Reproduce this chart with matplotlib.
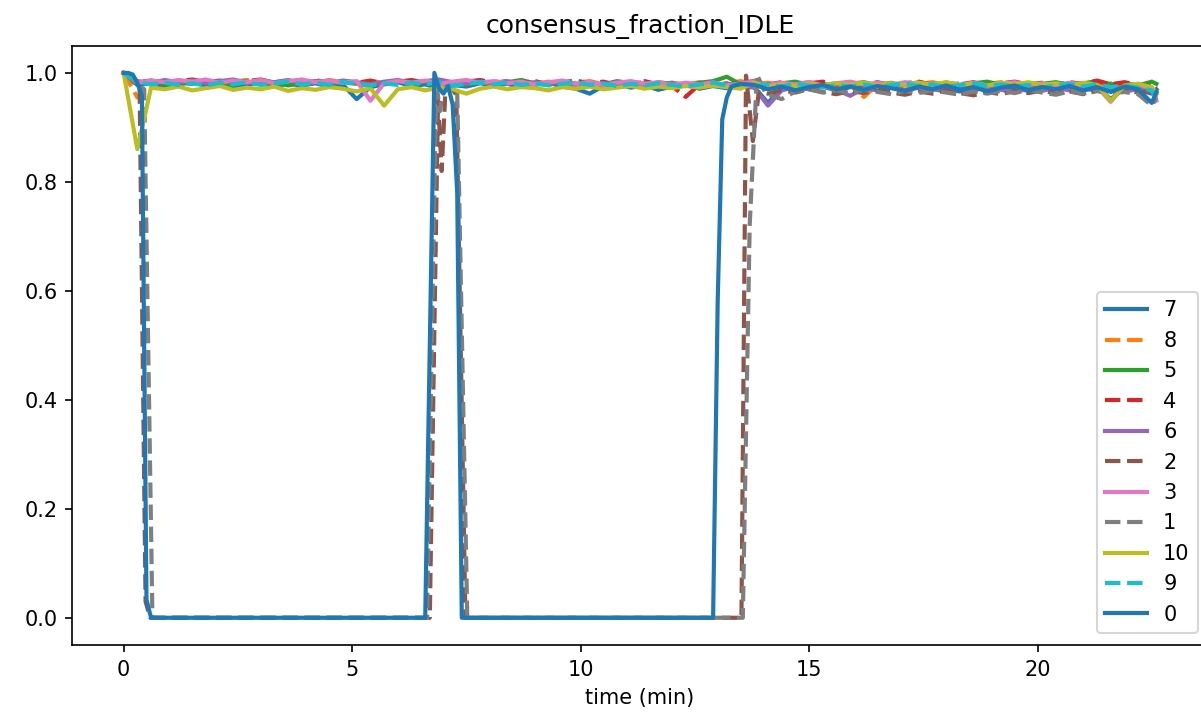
import numpy as np
import matplotlib
matplotlib.use("Agg")
import matplotlib.pyplot as plt

#%% data
# common sample times (min) for the runs that never drop out
t_grid = list(np.round(np.arange(0, 22.51, 0.3), 2)) + [22.6]

s7 = [1.0, 0.978, 0.981, 0.976, 0.979, 0.983, 0.977, 0.980, 0.975, 0.979,
      0.982, 0.976, 0.980, 0.977, 0.981, 0.975, 0.978, 0.952, 0.974, 0.979,
      0.983, 0.976, 0.979, 0.972, 0.978, 0.975, 0.981, 0.977, 0.980, 0.974,
      0.978, 0.982, 0.975, 0.971, 0.962, 0.976, 0.980, 0.973, 0.977, 0.969,
      0.975, 0.979, 0.971, 0.976, 0.972, 0.978, 0.974, 0.945, 0.972, 0.977,
      0.970, 0.975, 0.968, 0.974, 0.978, 0.970, 0.975, 0.968, 0.973, 0.977,
      0.971, 0.966, 0.974, 0.969, 0.976, 0.972, 0.967, 0.975, 0.970, 0.973,
      0.968, 0.974, 0.952, 0.972, 0.969, 0.962, 0.970]
s8 = [1.0, 0.955, 0.984, 0.981, 0.986, 0.982, 0.985, 0.980, 0.984, 0.987,
      0.983, 0.986, 0.981, 0.985, 0.982, 0.987, 0.983, 0.980, 0.985, 0.982,
      0.986, 0.981, 0.984, 0.979, 0.983, 0.986, 0.982, 0.985, 0.981, 0.984,
      0.980, 0.984, 0.978, 0.982, 0.985, 0.979, 0.983, 0.980, 0.984, 0.978,
      0.982, 0.979, 0.983, 0.977, 0.981, 0.985, 0.979, 0.982, 0.976, 0.980,
      0.983, 0.978, 0.981, 0.977, 0.956, 0.979, 0.982, 0.977, 0.980, 0.983,
      0.978, 0.981, 0.976, 0.980, 0.983, 0.977, 0.981, 0.978, 0.982, 0.976,
      0.980, 0.977, 0.981, 0.976, 0.979, 0.972, 0.950]
s5 = [1.0, 0.981, 0.985, 0.979, 0.983, 0.980, 0.986, 0.981, 0.978, 0.984,
      0.980, 0.983, 0.977, 0.982, 0.985, 0.979, 0.983, 0.981, 0.976, 0.982,
      0.985, 0.980, 0.983, 0.986, 0.981, 0.978, 0.984, 0.980, 0.983, 0.987,
      0.981, 0.978, 0.984, 0.980, 0.983, 0.979, 0.985, 0.981, 0.977, 0.983,
      0.980, 0.976, 0.982, 0.985, 0.993, 0.979, 0.982, 0.977, 0.981, 0.984,
      0.978, 0.982, 0.965, 0.980, 0.983, 0.977, 0.981, 0.978, 0.983, 0.979,
      0.982, 0.977, 0.981, 0.984, 0.978, 0.982, 0.976, 0.980, 0.983, 0.978,
      0.981, 0.985, 0.979, 0.982, 0.977, 0.984, 0.980]
s4 = [1.0, 0.983, 0.986, 0.982, 0.985, 0.988, 0.983, 0.986, 0.981, 0.985,
      0.988, 0.982, 0.986, 0.983, 0.987, 0.981, 0.985, 0.982, 0.986, 0.980,
      0.984, 0.987, 0.982, 0.985, 0.980, 0.984, 0.987, 0.982, 0.985, 0.981,
      0.985, 0.979, 0.983, 0.986, 0.981, 0.984, 0.978, 0.982, 0.985, 0.979,
      0.976, 0.956, 0.979, 0.983, 0.978, 0.982, 0.985, 0.979, 0.983, 0.977,
      0.981, 0.984, 0.978, 0.982, 0.979, 0.983, 0.977, 0.981, 0.984, 0.978,
      0.982, 0.979, 0.983, 0.977, 0.981, 0.984, 0.979, 0.982, 0.978, 0.983,
      0.980, 0.986, 0.979, 0.983, 0.978, 0.976, 0.968]
s6 = [1.0, 0.985, 0.982, 0.987, 0.983, 0.986, 0.981, 0.985, 0.988, 0.982,
      0.986, 0.983, 0.987, 0.981, 0.985, 0.982, 0.986, 0.983, 0.979, 0.984,
      0.987, 0.982, 0.985, 0.988, 0.983, 0.980, 0.984, 0.981, 0.985, 0.979,
      0.983, 0.980, 0.984, 0.978, 0.982, 0.979, 0.983, 0.977, 0.981, 0.978,
      0.982, 0.976, 0.980, 0.977, 0.981, 0.975, 0.973, 0.940, 0.968, 0.974,
      0.970, 0.975, 0.969, 0.958, 0.972, 0.968, 0.973, 0.969, 0.974, 0.970,
      0.966, 0.972, 0.968, 0.974, 0.969, 0.965, 0.971, 0.967, 0.973, 0.968,
      0.972, 0.967, 0.970, 0.965, 0.971, 0.966, 0.962]
s3 = [1.0, 0.982, 0.986, 0.983, 0.987, 0.984, 0.988, 0.982, 0.986, 0.983,
      0.987, 0.981, 0.985, 0.988, 0.983, 0.986, 0.982, 0.985, 0.949, 0.981,
      0.985, 0.982, 0.986, 0.980, 0.984, 0.987, 0.982, 0.985, 0.981, 0.984,
      0.979, 0.983, 0.986, 0.980, 0.984, 0.978, 0.982, 0.985, 0.980, 0.983,
      0.978, 0.982, 0.979, 0.983, 0.977, 0.981, 0.984, 0.978, 0.982, 0.979,
      0.983, 0.977, 0.981, 0.984, 0.979, 0.982, 0.978, 0.983, 0.980, 0.976,
      0.981, 0.978, 0.982, 0.977, 0.980, 0.983, 0.978, 0.981, 0.977, 0.982,
      0.979, 0.975, 0.947, 0.976, 0.980, 0.970, 0.949]
s10 = [1.0, 0.860, 0.973, 0.970, 0.975, 0.968, 0.972, 0.976, 0.969, 0.973,
       0.970, 0.975, 0.967, 0.972, 0.969, 0.974, 0.971, 0.966, 0.972, 0.940,
       0.970, 0.974, 0.968, 0.973, 0.970, 0.962, 0.971, 0.975, 0.970, 0.974,
       0.972, 0.968, 0.974, 0.971, 0.975, 0.970, 0.973, 0.976, 0.971, 0.975,
       0.972, 0.976, 0.973, 0.977, 0.974, 0.971, 0.982, 0.975, 0.979, 0.976,
       0.980, 0.977, 0.981, 0.978, 0.982, 0.977, 0.981, 0.978, 0.982, 0.979,
       0.983, 0.978, 0.981, 0.977, 0.982, 0.979, 0.983, 0.978, 0.981, 0.977,
       0.982, 0.978, 0.949, 0.977, 0.980, 0.974, 0.962]
s9 = [1.0, 0.983, 0.979, 0.982, 0.978, 0.981, 0.977, 0.982, 0.979, 0.983,
      0.978, 0.981, 0.984, 0.979, 0.982, 0.978, 0.983, 0.980, 0.977, 0.981,
      0.978, 0.982, 0.979, 0.983, 0.976, 0.980, 0.983, 0.979, 0.982, 0.978,
      0.981, 0.977, 0.980, 0.983, 0.978, 0.981, 0.976, 0.980, 0.977, 0.981,
      0.978, 0.975, 0.979, 0.982, 0.977, 0.980, 0.976, 0.979, 0.975, 0.980,
      0.977, 0.973, 0.978, 0.975, 0.979, 0.974, 0.978, 0.981, 0.976, 0.979,
      0.974, 0.978, 0.981, 0.976, 0.979, 0.975, 0.978, 0.973, 0.977, 0.980,
      0.975, 0.979, 0.974, 0.977, 0.973, 0.968, 0.955]

# runs that drop to zero: own sample times before they rejoin the grid
t2_head = [0.0, 0.15, 0.35, 0.48, 0.58, 6.70, 6.88, 6.96, 7.04, 7.15, 7.28,
           7.48, 13.52, 13.62, 13.77, 13.9]
s2_head = [1.0, 0.99, 0.97, 0.03, 0.0, 0.0, 0.95, 0.82, 0.965, 0.975, 0.96,
           0.0, 0.0, 0.995, 0.875, 0.965]
s2_tail = [0.962, 0.968, 0.964, 0.970, 0.965, 0.961, 0.967, 0.963, 0.969, 0.964,
           0.960, 0.966, 0.962, 0.968, 0.963, 0.959, 0.965, 0.961, 0.967, 0.963,
           0.968, 0.962, 0.966, 0.961, 0.967, 0.963, 0.969, 0.964, 0.966, 0.958]

t1_head = [0.0, 0.15, 0.3, 0.45, 0.63, 6.64, 6.84, 6.92, 7.0, 7.1, 7.2, 7.3,
           7.52, 13.55, 13.7, 13.86, 14.05]
s1_head = [1.0, 0.99, 0.978, 0.97, 0.0, 0.0, 0.985, 0.93, 0.97, 0.975, 0.968,
           0.965, 0.0, 0.0, 0.72, 0.997, 0.962]
s1_tail = [0.952, 0.966, 0.970, 0.964, 0.968, 0.963, 0.969, 0.965, 0.961, 0.967,
           0.963, 0.968, 0.964, 0.960, 0.966, 0.962, 0.967, 0.963, 0.969, 0.964,
           0.960, 0.966, 0.962, 0.967, 0.963, 0.965, 0.961, 0.940, 0.955]

t0_head = [0.0, 0.1, 0.2, 0.3, 0.4, 0.5, 0.6, 6.6, 6.8, 6.9, 7.0, 7.1, 7.2,
           7.3, 7.4, 12.9, 13.0, 13.1, 13.2, 13.3, 13.5]
s0_head = [1.0, 1.0, 0.997, 0.982, 0.957, 0.033, 0.0, 0.0, 1.0, 0.972, 0.962,
           0.976, 0.942, 0.78, 0.0, 0.0, 0.58, 0.915, 0.955, 0.975, 0.98]
s0_tail = [0.978, 0.970, 0.975, 0.968, 0.974, 0.978, 0.970, 0.975, 0.969, 0.976,
           0.972, 0.967, 0.975, 0.970, 0.977, 0.969, 0.974, 0.966, 0.973, 0.977,
           0.968, 0.974, 0.970, 0.976, 0.968, 0.974, 0.965, 0.975, 0.970, 0.945,
           0.965]

t_grid = np.array(t_grid)
t0 = np.concatenate([t0_head, t_grid[-len(s0_tail):]])
t1 = np.concatenate([t1_head, t_grid[-len(s1_tail):]])
t2 = np.concatenate([t2_head, t_grid[-len(s2_tail):]])

runs = [("7", t_grid, s7), ("8", t_grid, s8), ("5", t_grid, s5),
        ("4", t_grid, s4), ("6", t_grid, s6), ("2", t2, s2_head + s2_tail),
        ("3", t_grid, s3), ("1", t1, s1_head + s1_tail), ("10", t_grid, s10),
        ("9", t_grid, s9), ("0", t0, s0_head + s0_tail)]

#%% plot
fig = plt.figure(figsize=(1201/150, 721/150), dpi=150)
ax = fig.add_axes([72/1201, 76/721, 1136/1201, 599.3/721])

for k, (name, tt, vv) in enumerate(runs):
    ls = '-' if k % 2 == 0 else '--'
    ax.plot(tt, vv, ls, label=name, color='C%d' % (k % 10), lw=2)

ax.set_title('consensus_fraction_IDLE')
ax.set_xlabel('time (min)')
ax.legend(loc='lower right', bbox_to_anchor=(1198/1201, 88/721),
          bbox_transform=fig.transFigure, borderaxespad=0)

fig.savefig('out.png', dpi=150)
